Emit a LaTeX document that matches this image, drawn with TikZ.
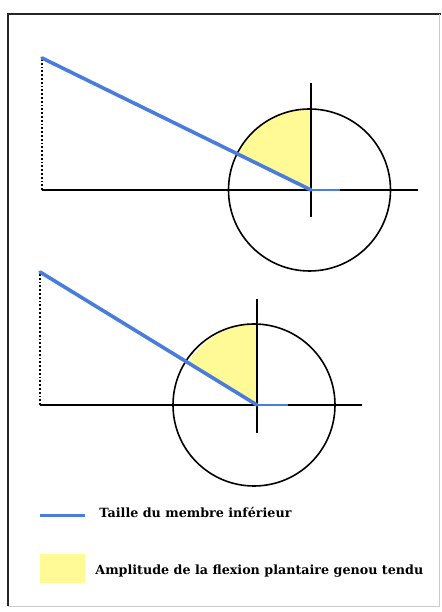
\documentclass[tikz,border=0pt]{standalone}
\usepackage{fontspec}
\setmainfont{DejaVu Serif}
\usetikzlibrary{positioning,calc}
\definecolor{membreblue}{RGB}{74,124,222}
\definecolor{flexyellow}{RGB}{255,249,150}

\begin{document}
\begin{tikzpicture}[x=1pt, y=1pt,
  membre/.style={membreblue, line width=3.6pt, line cap=round},
  pied/.style={membreblue, line width=2pt},
  axe/.style={black, line width=1.6pt},
  hauteur/.style={black, line width=1.8pt, dotted},
  cercle/.style={black, line width=1.6pt},
  swatch/.style={inner sep=0pt, minimum width=45pt},
  legtext/.style={anchor=west, inner sep=0pt, font=\bfseries\fontsize{12.7}{15}\selectfont}]
\useasboundingbox (0,0) rectangle (441,612);
% cadre
\draw[black!85, line width=1.2pt] (8,6) |- (441,598);
\draw[black!20, line width=0.8pt] (439,598) |- (8,6);

% genou tendu, haut
\coordinate (c1) at (311,422);
\coordinate (h1) at (42,554);
\coordinate (b1) at (42,422);
\coordinate (e1) at (418,422);
\coordinate (p1) at (340,422);
\begin{scope}
  \clip (c1) circle[radius=81];
  \fill[flexyellow] (c1) -- (h1) -- (c1 |- h1) -- cycle;
\end{scope}
\draw[cercle] ([xshift=-1.5pt]c1) circle[radius=81];
\draw[axe] (b1) -- (e1);
\draw[axe] ([yshift=107pt]c1) -- ([yshift=-27pt]c1);
\draw[hauteur] (b1) -- (h1);
\draw[membre] (h1) -- (c1);
\draw[pied] (c1) -- (p1);

% genou tendu, bas
\coordinate (c2) at (257,207);
\coordinate (h2) at (40,340);
\coordinate (b2) at (40,207);
\coordinate (e2) at (362,207);
\coordinate (p2) at (288,207);
\begin{scope}
  \clip (c2) circle[radius=81];
  \fill[flexyellow] (c2) -- (h2) -- (c2 |- h2) -- cycle;
\end{scope}
\draw[cercle] ([xshift=-3pt]c2) circle[radius=81];
\draw[axe] (b2) -- (e2);
\draw[axe] ([yshift=106pt]c2) -- ([yshift=-28pt]c2);
\draw[hauteur] (b2) -- (h2);
\draw[membre] (h2) -- (c2);
\draw[pied] (c2) -- (p2);

% legende
\node[swatch, minimum height=3pt, fill=membreblue] (sw1) at (62.5,96) {};
\node[legtext, right=14pt of sw1, yshift=3pt] (leg1) {Taille du membre inférieur};
\node[swatch, minimum height=29pt, fill=flexyellow] (sw2) at (62.5,43.5) {};
\node[legtext, right=10pt of sw2, yshift=-3pt] (leg2) {Amplitude de la flexion plantaire genou tendu};
\end{tikzpicture}
\end{document}
